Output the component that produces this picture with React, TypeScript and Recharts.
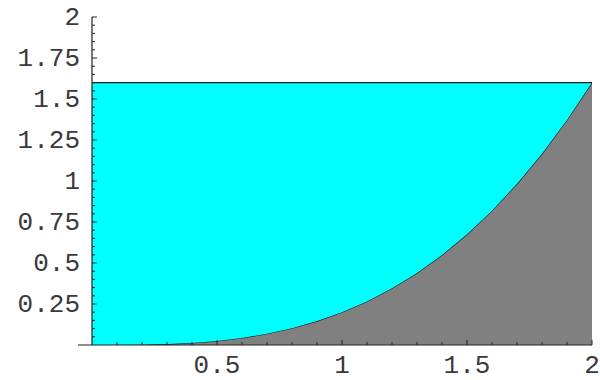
import React from 'react';
import { ComposedChart, Area, XAxis, YAxis, ReferenceLine } from 'recharts';

// values
const xs = [0, 0.1, 0.2, 0.3, 0.4, 0.5, 0.6, 0.7, 0.8, 0.9, 1, 1.1, 1.2, 1.3, 1.4, 1.5, 1.6, 1.7, 1.8, 1.9, 2];
const curve = [0, 0.0002, 0.0016, 0.0054, 0.0128, 0.025, 0.043, 0.069, 0.102, 0.146, 0.2, 0.266, 0.346, 0.439, 0.549, 0.675, 0.819, 0.983, 1.166, 1.372, 1.6];
const ceiling = 1.6;

const xLabels = [0.5, 1, 1.5, 2];
const yLabels = [0.25, 0.5, 0.75, 1, 1.25, 1.5, 1.75, 2];

// minor tick marks (unlabelled)
const xMinor = Array.from({ length: 20 }, (_, i) => +((i + 1) * 0.1).toFixed(2));
const yMinor = Array.from({ length: 40 }, (_, i) => +((i + 1) * 0.05).toFixed(2));

const data = xs.map((x, i) => ({ x, low: curve[i], band: ceiling - curve[i] }));

const FONT = '"Liberation Mono", "DejaVu Sans Mono", monospace';
const INK = '#222';
const LABEL = '#3a3a3a';

const isMajor = (v: number, list: number[]) => list.some((m) => Math.abs(m - v) < 1e-6);

const XTick = (props: any) => {
  const { x, y, payload } = props;
  const major = isMajor(payload.value, xLabels);
  return (
    <g>
      <line x1={x} x2={x} y1={y} y2={y - (major ? 5 : 3)} stroke={INK} strokeWidth={1} />
      {major && (
        <text x={x} y={y + 21} textAnchor="middle" dominantBaseline="central" fontFamily={FONT} fontSize={26} fill={LABEL}>
          {payload.value}
        </text>
      )}
    </g>
  );
};

const YTick = (props: any) => {
  const { x, y, payload } = props;
  const major = isMajor(payload.value, yLabels);
  const ax = x + 14;
  return (
    <g>
      <line x1={ax} x2={ax + (major ? 5 : 3)} y1={y} y2={y} stroke={INK} strokeWidth={1} />
      {major && (
        <text x={x + 2} y={y + 1} textAnchor="end" dominantBaseline="central" fontFamily={FONT} fontSize={26} fill={LABEL}>
          {payload.value}
        </text>
      )}
    </g>
  );
};

export default function App() {
  return (
    <div style={{ position: 'absolute', left: 0, top: 0, width: 600, height: 380, background: '#fff' }}>
      <ComposedChart width={600} height={380} data={data} margin={{ top: 17, right: 8, bottom: 0, left: 0 }}>
        <XAxis
          dataKey="x"
          type="number"
          domain={[-0.056, 2]}
          ticks={xMinor}
          tick={<XTick />}
          tickSize={0}
          tickMargin={0}
          height={35}
          axisLine={{ stroke: INK, strokeWidth: 1.2 }}
          tickLine={false}
          interval={0}
          allowDataOverflow
        />
        <YAxis
          type="number"
          domain={[0, 2]}
          ticks={yMinor}
          tick={<YTick />}
          tickSize={0}
          tickMargin={0}
          width={78}
          axisLine={false}
          tickLine={false}
          interval={0}
          allowDataOverflow
        />
        <Area
          type="linear"
          dataKey="low"
          stackId="s"
          stroke="#1a1a1a"
          strokeWidth={1.2}
          fill="#808080"
          fillOpacity={1}
          isAnimationActive={false}
          dot={false}
          activeDot={false}
        />
        <Area
          type="linear"
          dataKey="band"
          stackId="s"
          stroke="#1a1a1a"
          strokeWidth={1.2}
          fill="#00ffff"
          fillOpacity={1}
          isAnimationActive={false}
          dot={false}
          activeDot={false}
        />
        <ReferenceLine x={0} stroke={INK} strokeWidth={1.2} />
      </ComposedChart>
    </div>
  );
}
